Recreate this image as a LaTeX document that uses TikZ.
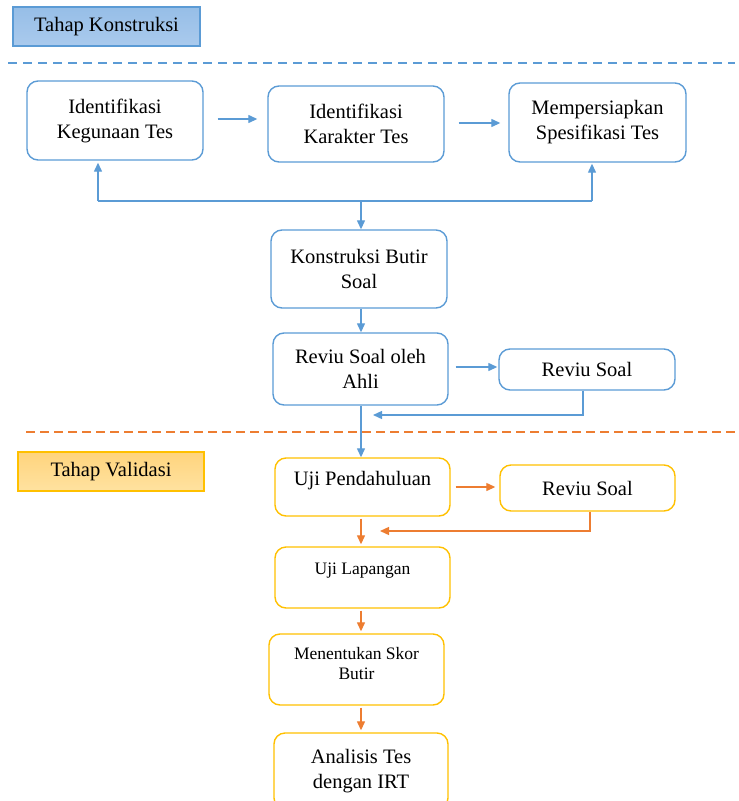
\documentclass[tikz,border=0pt]{standalone}
\usepackage{fontspec}
\setmainfont{Liberation Serif}
\usetikzlibrary{arrows.meta,calc}

\definecolor{ablue}{RGB}{91,155,213}
\definecolor{agold}{RGB}{255,192,0}
\definecolor{aorange}{RGB}{237,125,49}

\tikzset{
  step_box/.style={rounded corners=11pt, line width=1.4pt, align=center,
    inner sep=0pt, font=\fontsize{20.5}{25}\selectfont},
  blue_box/.style={step_box, draw=ablue},
  gold_box/.style={step_box, draw=agold},
  stage_tag/.style={rectangle, line width=1.2pt, inner sep=0pt,
    minimum height=39pt, font=\fontsize{20.5}{24}\selectfont},
}

\begin{document}
\begin{tikzpicture}[
  x=1pt, y=-1pt,
  blue arrow/.style={draw=ablue, line width=1.3pt, -{Triangle[length=9pt,width=8pt]}},
  orange arrow/.style={draw=aorange, line width=1.3pt, -{Triangle[length=9pt,width=8pt]}},
  blue line/.style={draw=ablue, line width=1.3pt},
  orange line/.style={draw=aorange, line width=1.3pt},
  ]

  \useasboundingbox (0,0) rectangle (739,801);
  \clip (0,0) rectangle (739,801);

  % stage tags and separators
  \node[stage_tag, draw=ablue, top color={rgb,255:red,150;green,190;blue,231},
        bottom color={rgb,255:red,170;green,202;blue,237}, minimum width=187pt]
        (tk) at (106.5,26.5) {Tahap Konstruksi};
  \draw[ablue, line width=1.3pt, dash pattern=on 9pt off 6pt] (8,63) -- (735,63);

  \node[stage_tag, draw=agold, top color={rgb,255:red,255;green,212;blue,125},
        bottom color={rgb,255:red,255;green,226;blue,160}, minimum width=186pt]
        (tv) at (111,471.5) {Tahap Validasi};
  \draw[aorange, line width=1.3pt, dash pattern=on 9pt off 5pt] (26,432) -- (739,432);

  % construction stage
  \node[blue_box, minimum width=176pt, minimum height=79pt] (ik)  at (115,120.5) {Identifikasi\\Kegunaan Tes};
  \node[blue_box, minimum width=176pt, minimum height=76pt] (ikt) at (356,124)   {Identifikasi\\Karakter Tes};
  \node[blue_box, minimum width=177pt, minimum height=79pt] (ms)  at (597.5,122.5) {Mempersiapkan\\Spesifikasi Tes};
  \node[blue_box, minimum width=176pt, minimum height=78pt] (kbs) at (359,269)   {Konstruksi Butir\\Soal};
  \node[blue_box, minimum width=175pt, minimum height=72pt] (rsa) at (360.5,369) {Reviu Soal oleh\\Ahli};
  \node[blue_box, minimum width=176pt, minimum height=41pt] (rs1) at (587,369.5) {Reviu Soal};

  % validation stage
  \node[gold_box, minimum width=175pt, minimum height=58pt, text depth=18pt] (up) at (362.5,487) {Uji Pendahuluan};
  \node[gold_box, minimum width=175pt, minimum height=46pt] (rs2) at (587.5,488) {Reviu Soal};
  \node[gold_box, minimum width=175pt, minimum height=61pt, text depth=17pt,
        font=\fontsize{17.5}{20}\selectfont] (ul) at (362.5,577.5) {Uji Lapangan};
  \node[gold_box, minimum width=175pt, minimum height=71pt, text depth=13pt,
        font=\fontsize{17.5}{20}\selectfont] (msb) at (356.5,669.5) {Menentukan Skor\\Butir};
  \node[gold_box, minimum width=174pt, minimum height=76pt] (at) at (361,771) {Analisis Tes\\dengan IRT};

  \coordinate (fbl) at (98,201);
  \coordinate (fbm) at (361,201);
  \coordinate (fbr) at (592,201);
  \coordinate (rb1) at (583,415);
  \coordinate (rt1) at (373,415);
  \coordinate (rb2) at (590,531);
  \coordinate (rt2) at (380,531);

  \draw[blue arrow] ([xshift=14pt,yshift=1.5pt]ik.east) -- ([xshift=-10pt,yshift=1.5pt]ik.east -| ikt.west);
  \draw[blue arrow] ([xshift=14pt,yshift=1pt]ikt.east) -- ([xshift=-8pt,yshift=1pt]ikt.east -| ms.west);

  \draw[blue line] (fbl) -- (fbr);
  \draw[blue arrow, shorten >=2pt] (fbl) -- (fbl |- ik.south);
  \draw[blue arrow, shorten >=1pt] (fbr) -- (fbr |- ms.south);
  \draw[blue arrow] (fbm) -- (fbm |- kbs.north);
  \draw[blue arrow] (fbm |- kbs.south) -- (fbm |- rsa.north);

  \draw[blue arrow] ([xshift=7pt,yshift=2pt]rsa.east) -- ([xshift=-1pt,yshift=2pt]rsa.east -| rs1.west);
  \draw[blue arrow] (rb1 |- rs1.south) -- (rb1) -- (rt1);
  \draw[blue arrow] (fbm |- rsa.south) -- (fbm |- up.north);

  \draw[orange arrow] ([xshift=5pt]up.east) -- ([xshift=-4pt]up.east -| rs2.west);
  \draw[orange arrow] (rb2 |- rs2.south) -- (rb2) -- (rt2);

  \foreach \a/\b in {up/ul, ul/msb, msb/at}{
    \draw[orange arrow, shorten <=2pt, shorten >=2pt] (fbm |- \a.south) -- (fbm |- \b.north);
  }

\end{tikzpicture}
\end{document}
